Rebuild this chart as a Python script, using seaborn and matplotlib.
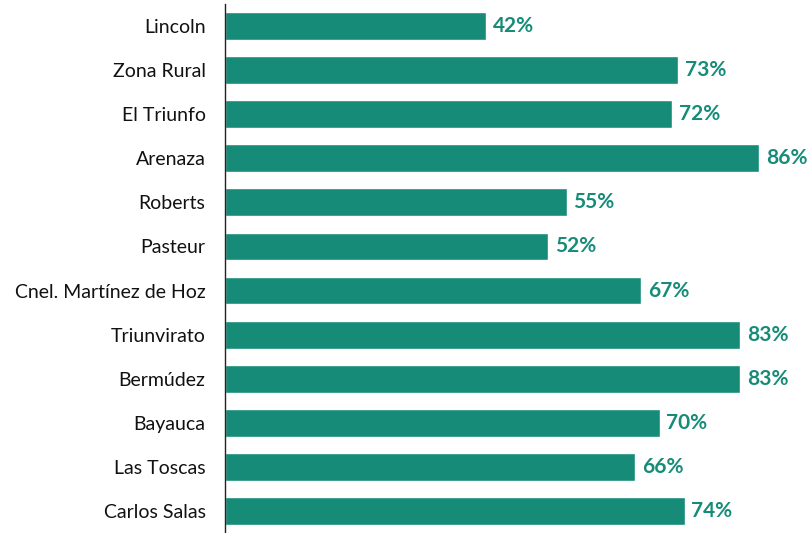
import matplotlib
matplotlib.use('Agg')
import matplotlib.pyplot as plt
import seaborn as sns
import pandas as pd

localidades = ["Lincoln", "Zona Rural", "El Triunfo", "Arenaza", "Roberts", "Pasteur",
               "Cnel. Martínez de Hoz", "Triunvirato", "Bermúdez", "Bayauca",
               "Las Toscas", "Carlos Salas"]
porcentajes = [42, 73, 72, 86, 55, 52, 67, 83, 83, 70, 66, 74]

df = pd.DataFrame({"localidad": localidades, "pct": porcentajes})

verde = "#168C78"

sns.set_theme(style="white")
plt.rcParams['font.family'] = ['Lato', 'DejaVu Sans']

fig = plt.figure(figsize=(8.12, 5.33), dpi=100)
ax = fig.add_axes([225 / 812, 0, 575 / 812, 529 / 533])

sns.barplot(data=df, x="pct", y="localidad", color=verde, saturation=1,
            width=0.63, ax=ax)

for i, v in enumerate(porcentajes):
    ax.text(v + 1.1, i, f"{v}%", va="center", ha="left", color=verde,
            fontsize=15, fontweight="bold")

ax.set_xlim(0, 92.6)
ax.set_ylim(11.5, -0.5)
ax.set_xlabel("")
ax.set_ylabel("")
ax.set_xticks([])
ax.tick_params(axis="y", length=0, pad=14, labelsize=14, labelcolor="#111111")
for s in ["top", "right", "bottom"]:
    ax.spines[s].set_visible(False)
ax.spines["left"].set_color("#222222")
ax.spines["left"].set_linewidth(1.0)

fig.savefig("out.png", dpi=100)
